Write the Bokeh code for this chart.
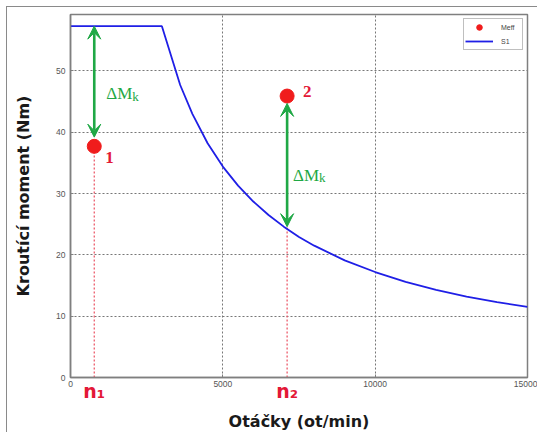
from bokeh.plotting import figure
from bokeh.models import (Range1d, FixedTicker, Label, Arrow, VeeHead, Legend,
                          LegendItem, ColumnDataSource, LinearAxis)
from bokeh.embed import file_html
from bokeh.resources import INLINE

# ---- data ----
s1_n = [0, 3000, 3600, 4000, 4500, 5000, 5500, 6000, 6500, 7000, 7500, 8000,
        9000, 10000, 11000, 12000, 13000, 14000, 15000]
s1_m = [57.3, 57.3, 47.7, 43.0, 38.2, 34.4, 31.3, 28.7, 26.5, 24.6, 22.9, 21.5,
        19.1, 17.2, 15.6, 14.3, 13.2, 12.3, 11.5]
meff_n = [780, 7110]
meff_m = [37.7, 45.9]
point_labels = ["1", "2"]
n_labels = ["n₁", "n₂"]
dmk_top = [57.3, 44.7]
dmk_bottom = [39.2, 24.6]
x_ticks = [0, 5000, 10000, 15000]
y_ticks = [0, 10, 20, 30, 40, 50]

GREEN = "#1fa845"
RED_TXT = "#e31837"
RED_DOT = "#f01c1c"
BLUE = "#1f1fe6"
GRAY = "#7f7f7f"

p = figure(width=531, height=426, x_range=Range1d(0, 15000), y_range=Range1d(0, 59.2),
           output_backend="svg", toolbar_location=None,
           min_border_left=63, min_border_right=11, min_border_top=7, min_border_bottom=55)
p.styles = {"margin-left": "6px", "margin-top": "6px",
            "border-left": "1px solid #8a8a8a", "border-top": "1px solid #8a8a8a"}
p.background_fill_color = "white"
p.border_fill_color = "white"
p.outline_line_color = GRAY
p.outline_line_width = 1.5

main_x = p.xaxis[0]
main_y = p.yaxis[0]
for ax, ticks in ((main_x, x_ticks), (main_y, y_ticks)):
    ax.ticker = FixedTicker(ticks=ticks)
    ax.axis_line_color = GRAY
    ax.axis_line_width = 1.5
    ax.major_tick_line_color = GRAY
    ax.major_tick_in = 3
    ax.major_tick_out = 0
    ax.minor_tick_line_color = None
    ax.major_label_text_font = "Liberation Sans"
    ax.major_label_text_font_size = "8.5px"
    ax.major_label_text_color = "#555555"

main_x.major_label_standoff = 3
main_y.major_label_standoff = 5
main_y.axis_label = "Kroutící moment (Nm)"
main_y.axis_label_text_font = "DejaVu Sans"
main_y.axis_label_text_font_size = "16px"
main_y.axis_label_text_font_style = "bold"
main_y.axis_label_text_color = "#1a1a1a"
main_y.axis_label_standoff = 20

# second bottom axis carrying the n1 / n2 marks and the x title
n_axis = LinearAxis(ticker=FixedTicker(ticks=meff_n),
                    major_label_overrides={n: lab for n, lab in zip(meff_n, n_labels)})
n_axis.axis_line_color = None
n_axis.major_tick_line_color = None
n_axis.minor_tick_line_color = None
n_axis.major_tick_in = 0
n_axis.major_tick_out = 0
n_axis.major_label_standoff = -10
n_axis.major_label_text_font = "DejaVu Sans"
n_axis.major_label_text_font_style = "bold"
n_axis.major_label_text_font_size = "19px"
n_axis.major_label_text_color = RED_TXT
n_axis.axis_label = "Otáčky (ot/min)"
n_axis.axis_label_text_font = "DejaVu Sans"
n_axis.axis_label_text_font_size = "16px"
n_axis.axis_label_text_font_style = "bold"
n_axis.axis_label_text_color = "#1a1a1a"
n_axis.axis_label_standoff = 7
p.add_layout(n_axis, "below")

p.xgrid.ticker = FixedTicker(ticks=x_ticks[1:-1])
p.ygrid.ticker = FixedTicker(ticks=y_ticks[1:])
for g in (p.xgrid, p.ygrid):
    g.grid_line_color = "#777777"
    g.grid_line_dash = "2 2"
    g.grid_line_width = 1

# red dotted verticals from axis to the lower end at each speed
low_ends = [min(a, b) for a, b in zip(meff_m, dmk_bottom)]
p.segment(x0=meff_n, y0=[0] * len(meff_n), x1=meff_n, y1=low_ends,
          line_color="#ec5a6a", line_dash="2 2", line_width=1.3)

r_s1 = p.line(s1_n, s1_m, line_color=BLUE, line_width=1.8)

arrow_src = ColumnDataSource(dict(x=meff_n, y0=dmk_top, y1=dmk_bottom))
p.add_layout(Arrow(source=arrow_src, x_start="x", y_start="y0", x_end="x", y_end="y1",
                   line_color=GREEN, line_width=2.6,
                   start=VeeHead(size=13, fill_color=GREEN, line_color=GREEN, line_width=1),
                   end=VeeHead(size=13, fill_color=GREEN, line_color=GREEN, line_width=1)))

r_meff = p.scatter(meff_n, meff_m, size=14, fill_color=RED_DOT, line_color=RED_DOT)

# point numbers
pt_pos = [(11, 35.9), (16, 46.7)]
for i, (dx, y) in enumerate(pt_pos):
    p.add_layout(Label(x=meff_n[i], y=y, x_offset=dx, text=point_labels[i],
                       text_font="Liberation Serif", text_font_style="bold",
                       text_font_size="17px", text_color=RED_TXT,
                       text_baseline="middle", text_align="left"))

# Delta M_k labels
dm_pos = [(12, 46.35, 38, 45.9), (6, 33.0, 32, 32.6)]
for i, (dx, y, dxk, yk) in enumerate(dm_pos):
    p.add_layout(Label(x=meff_n[i], y=y, x_offset=dx, text="ΔM",
                       text_font="Liberation Serif", text_font_size="17px",
                       text_color=GREEN, text_baseline="alphabetic", text_align="left"))
    p.add_layout(Label(x=meff_n[i], y=yk, x_offset=dxk, text="k",
                       text_font="Liberation Serif", text_font_size="13px",
                       text_color=GREEN, text_baseline="alphabetic", text_align="left"))

legend = Legend(items=[LegendItem(label="Meff", renderers=[r_meff]),
                       LegendItem(label="S1", renderers=[r_s1])],
                location="top_right")
legend.label_text_font = "Liberation Sans"
legend.label_text_font_size = "7px"
legend.label_text_color = "#444444"
legend.glyph_width = 28
legend.glyph_height = 14
legend.label_height = 14
legend.label_standoff = 8
legend.padding = 1
legend.spacing = 0
legend.margin = 4
legend.border_line_color = GRAY
legend.border_line_width = 1
legend.background_fill_color = "white"
p.add_layout(legend)

open("out.html", "w").write(file_html(p, INLINE))
